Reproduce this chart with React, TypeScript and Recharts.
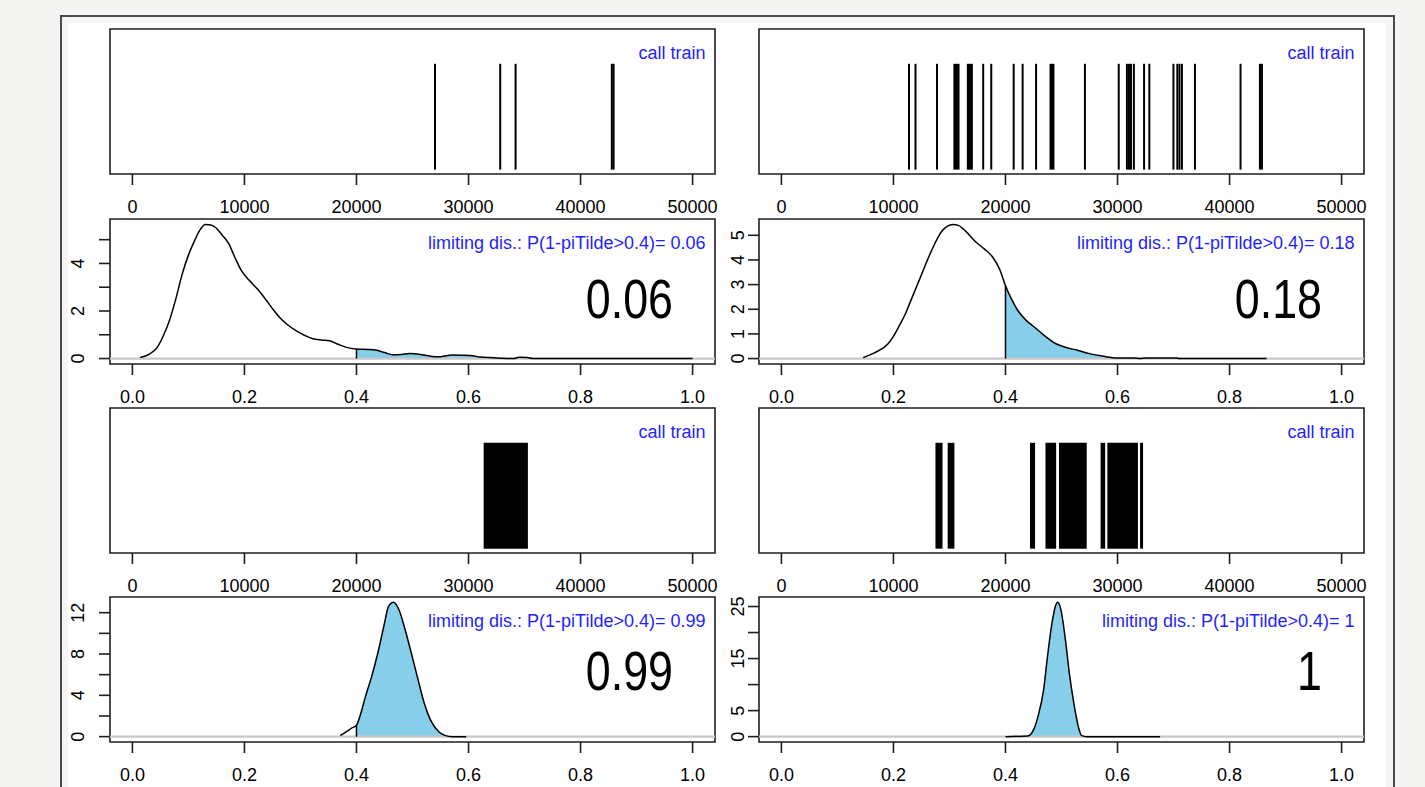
import {
  Area,
  ComposedChart,
  Label,
  Line,
  ReferenceArea,
  ReferenceLine,
  XAxis,
  YAxis,
} from "recharts";

const FONT = "'Liberation Sans', Arial, Helvetica, sans-serif";
const INK = "#1e1e1e";
const BLUE = "#1f1fff";
const SKY = "#87CEEB";

// call train times (single spikes) and dense bursts [start, end]
const TIME_TICKS = [0, 10000, 20000, 30000, 40000, 50000];
const SPIKES_A = [27010, 32830, 34200, 42790, 42950];
const BURSTS_A: [number, number][] = [];
const SPIKES_B = [
  11390, 11970, 13890, 18010, 18730, 20730, 21530, 22730, 27090, 30110, 30840,
  31020, 31200, 31460, 32370, 32840, 34990, 35340, 35530, 35750, 36910, 40980,
];
const BURSTS_B: [number, number][] = [
  [15350, 15900],
  [16550, 17090],
  [23930, 24370],
  [42620, 42980],
];
const SPIKES_C: number[] = [];
const BURSTS_C: [number, number][] = [[31350, 35300]];
const SPIKES_D: number[] = [];
const BURSTS_D: [number, number][] = [
  [13750, 14380],
  [14840, 15440],
  [22190, 22640],
  [23570, 24520],
  [24780, 27250],
  [28490, 28900],
  [29090, 31820],
  [32010, 32280],
];

// limiting distribution densities of 1 - piTilde
const PROP_TICKS = [0, 0.2, 0.4, 0.6, 0.8, 1.0];
const THRESHOLD = 0.4;

const DENSITY_A = [
  { x: 0.014, y: 0.04 }, { x: 0.03, y: 0.18 }, { x: 0.044, y: 0.46 }, { x: 0.055, y: 0.95 },
  { x: 0.066, y: 1.59 }, { x: 0.078, y: 2.55 }, { x: 0.089, y: 3.56 }, { x: 0.1, y: 4.35 },
  { x: 0.111, y: 4.96 }, { x: 0.121, y: 5.42 }, { x: 0.13, y: 5.64 }, { x: 0.14, y: 5.62 },
  { x: 0.149, y: 5.5 }, { x: 0.16, y: 5.2 }, { x: 0.172, y: 4.83 }, { x: 0.183, y: 4.25 },
  { x: 0.194, y: 3.72 }, { x: 0.209, y: 3.28 }, { x: 0.224, y: 2.9 }, { x: 0.239, y: 2.45 },
  { x: 0.25, y: 2.1 }, { x: 0.262, y: 1.75 }, { x: 0.277, y: 1.42 }, { x: 0.292, y: 1.17 },
  { x: 0.307, y: 0.98 }, { x: 0.322, y: 0.83 }, { x: 0.337, y: 0.78 }, { x: 0.352, y: 0.75 },
  { x: 0.367, y: 0.6 }, { x: 0.382, y: 0.47 }, { x: 0.4, y: 0.4 }, { x: 0.42, y: 0.38 },
  { x: 0.434, y: 0.36 }, { x: 0.45, y: 0.25 }, { x: 0.465, y: 0.16 }, { x: 0.48, y: 0.17 },
  { x: 0.495, y: 0.21 }, { x: 0.517, y: 0.16 }, { x: 0.535, y: 0.09 }, { x: 0.547, y: 0.07 },
  { x: 0.56, y: 0.12 }, { x: 0.57, y: 0.15 }, { x: 0.59, y: 0.14 }, { x: 0.607, y: 0.12 },
  { x: 0.62, y: 0.06 }, { x: 0.645, y: 0.03 }, { x: 0.66, y: 0.01 }, { x: 0.68, y: 0 },
  { x: 0.69, y: 0.05 }, { x: 0.705, y: 0.04 }, { x: 0.715, y: 0 }, { x: 1.0, y: 0 },
];
const DENSITY_B = [
  { x: 0.146, y: 0.04 }, { x: 0.167, y: 0.24 }, { x: 0.19, y: 0.59 }, { x: 0.2, y: 0.9 },
  { x: 0.212, y: 1.4 }, { x: 0.222, y: 1.85 }, { x: 0.231, y: 2.35 }, { x: 0.25, y: 3.4 },
  { x: 0.268, y: 4.38 }, { x: 0.287, y: 5.18 }, { x: 0.306, y: 5.44 }, { x: 0.316, y: 5.4 },
  { x: 0.325, y: 5.25 }, { x: 0.347, y: 4.73 }, { x: 0.362, y: 4.45 }, { x: 0.377, y: 4.12 },
  { x: 0.39, y: 3.6 }, { x: 0.4, y: 2.95 }, { x: 0.411, y: 2.4 }, { x: 0.422, y: 1.95 },
  { x: 0.437, y: 1.55 }, { x: 0.452, y: 1.27 }, { x: 0.47, y: 0.92 }, { x: 0.49, y: 0.6 },
  { x: 0.508, y: 0.45 }, { x: 0.528, y: 0.34 }, { x: 0.55, y: 0.2 }, { x: 0.573, y: 0.1 },
  { x: 0.6, y: 0.02 }, { x: 0.63, y: 0.02 }, { x: 0.64, y: 0 }, { x: 0.65, y: 0.02 },
  { x: 0.705, y: 0.02 }, { x: 0.71, y: 0 }, { x: 0.866, y: 0 },
];
const DENSITY_C = [
  { x: 0.371, y: 0.1 }, { x: 0.382, y: 0.48 }, { x: 0.392, y: 0.85 }, { x: 0.4, y: 1.1 },
  { x: 0.406, y: 1.94 }, { x: 0.416, y: 3.87 }, { x: 0.427, y: 5.81 }, { x: 0.438, y: 8.07 },
  { x: 0.45, y: 10.98 }, { x: 0.457, y: 12.58 }, { x: 0.466, y: 13.0 }, { x: 0.476, y: 12.26 },
  { x: 0.487, y: 10.33 }, { x: 0.498, y: 8.07 }, { x: 0.51, y: 5.49 }, { x: 0.521, y: 3.23 },
  { x: 0.532, y: 1.62 }, { x: 0.547, y: 0.48 }, { x: 0.559, y: 0.1 }, { x: 0.57, y: 0 },
  { x: 0.596, y: 0 },
];
const DENSITY_D = [
  { x: 0.4, y: 0 }, { x: 0.44, y: 0.13 }, { x: 0.45, y: 1.3 }, { x: 0.458, y: 3.85 },
  { x: 0.468, y: 8.98 }, { x: 0.475, y: 15.4 }, { x: 0.483, y: 21.8 }, { x: 0.489, y: 25.0 },
  { x: 0.493, y: 25.8 }, { x: 0.499, y: 24.37 }, { x: 0.507, y: 18.6 }, { x: 0.514, y: 12.19 },
  { x: 0.522, y: 6.42 }, { x: 0.53, y: 1.92 }, { x: 0.536, y: 0.19 }, { x: 0.545, y: 0 },
  { x: 0.676, y: 0 },
];

const PROB_LABELS = ["0.06", "0.18", "0.99", "1"];
const YTICKS_A = [0, 1, 2, 3, 4, 5];
const YLABELS_A = [0, 2, 4];
const YTICKS_B = [0, 1, 2, 3, 4, 5];
const YLABELS_B = [0, 1, 2, 3, 4, 5];
const YTICKS_C = [0, 2, 4, 6, 8, 10, 12];
const YLABELS_C = [0, 4, 8, 12];
const YTICKS_D = [0, 5, 10, 15, 20, 25];
const YLABELS_D = [0, 5, 15, 25];

// layout
const BOX_W = 605;
const BOX_H = 145;
const COL_LEFT = [110, 759];
const ROW_TOP = [29, 219, 408, 597];
const PAD_L = 60;
const PAD_R = 22;
const PAD_T = 6;
const PAD_B = 46;
const TIME_DOMAIN = [-2000, 52000];
const PROP_DOMAIN = [-0.04, 1.04];
const SPIKE_LO = 0.03;
const SPIKE_HI = 0.76;

function XTick(props: any) {
  const { x, y, payload, digits } = props;
  const v = Number(payload.value);
  const text = digits ? v.toFixed(digits) : String(v);
  return (
    <text x={x} y={y + 26} textAnchor="middle" fontSize={18} fontFamily={FONT} fill="#000">
      {text}
    </text>
  );
}

function YTick(props: any) {
  const { x, y, payload, labels, shift } = props;
  if (!labels.includes(payload.value)) return <g />;
  const cx = x - shift;
  return (
    <text
      x={cx}
      y={y}
      dy="0.36em"
      transform={`rotate(-90 ${cx} ${y})`}
      textAnchor="middle"
      fontSize={18}
      fontFamily={FONT}
      fill="#000"
    >
      {payload.value}
    </text>
  );
}

function boxText(tag: string, prob?: string, numberDrop = 95) {
  return (props: any) => {
    const vb = props?.viewBox;
    if (!vb) return null;
    const right = vb.x + vb.width;
    const nx = right - 42;
    const ny = vb.y + numberDrop;
    return (
      <g>
        <text x={right - 9.5} y={vb.y + 30} textAnchor="end" fontSize={18} fontFamily={FONT} fill={BLUE}>
          {tag}
        </text>
        {prob && (
          <text
            transform={`translate(${nx} ${ny}) scale(0.8 1)`}
            x={0}
            y={0}
            textAnchor="end"
            fontSize={56}
            fontFamily={FONT}
            fill="#000"
          >
            {prob}
          </text>
        )}
      </g>
    );
  };
}

function SpikePanel({ col, row, spikes, bursts }: { col: number; row: number; spikes: number[]; bursts: [number, number][] }) {
  return (
    <div style={{ position: "absolute", left: COL_LEFT[col] - PAD_L, top: ROW_TOP[row] - PAD_T }}>
      <ComposedChart
        width={PAD_L + BOX_W + PAD_R}
        height={PAD_T + BOX_H + PAD_B}
        data={spikes.map((t) => ({ x: t }))}
        margin={{ top: PAD_T, right: PAD_R, bottom: 0, left: 0 }}
        style={{ overflow: "visible" }}
      >
        <XAxis
          dataKey="x"
          type="number"
          domain={TIME_DOMAIN}
          allowDataOverflow
          ticks={TIME_TICKS}
          interval={0}
          height={PAD_B}
          tickSize={11}
          axisLine={false}
          tickLine={{ stroke: INK, strokeWidth: 1.6 }}
          tick={<XTick digits={0} />}
        />
        <YAxis type="number" domain={[0, 1]} allowDataOverflow width={PAD_L} tick={false} tickLine={false} axisLine={false} />
        {bursts.map(([a, b]) => (
          <ReferenceArea key={`b${a}`} x1={a} x2={b} y1={SPIKE_LO} y2={SPIKE_HI} fill="#000" fillOpacity={1} stroke="none" ifOverflow="visible" />
        ))}
        {spikes.map((t) => (
          <ReferenceLine
            key={`s${t}`}
            segment={[{ x: t, y: SPIKE_LO }, { x: t, y: SPIKE_HI }]}
            stroke="#000"
            strokeWidth={2}
            ifOverflow="visible"
          />
        ))}
        <ReferenceArea
          x1={TIME_DOMAIN[0]}
          x2={TIME_DOMAIN[1]}
          y1={0}
          y2={1}
          fill="none"
          stroke={INK}
          strokeWidth={1.6}
          ifOverflow="visible"
          label={<Label content={boxText("call train")} />}
        />
      </ComposedChart>
    </div>
  );
}

function DensityPanel({
  col,
  row,
  density,
  yDomain,
  yTicks,
  yLabels,
  prob,
  numberDrop,
}: {
  col: number;
  row: number;
  density: { x: number; y: number }[];
  yDomain: [number, number];
  yTicks: number[];
  yLabels: number[];
  prob: string;
  numberDrop: number;
}) {
  const tail = density.filter((p) => p.x >= THRESHOLD);
  const edge = tail.length ? tail[0] : null;
  return (
    <div style={{ position: "absolute", left: COL_LEFT[col] - PAD_L, top: ROW_TOP[row] - PAD_T }}>
      <ComposedChart
        width={PAD_L + BOX_W + PAD_R}
        height={PAD_T + BOX_H + PAD_B}
        margin={{ top: PAD_T, right: PAD_R, bottom: 0, left: 0 }}
        style={{ overflow: "visible" }}
      >
        <XAxis
          dataKey="x"
          type="number"
          domain={PROP_DOMAIN}
          allowDataOverflow
          ticks={PROP_TICKS}
          interval={0}
          height={PAD_B}
          tickSize={11}
          axisLine={false}
          tickLine={{ stroke: INK, strokeWidth: 1.6 }}
          tick={<XTick digits={1} />}
        />
        <YAxis
          type="number"
          domain={yDomain}
          allowDataOverflow
          ticks={yTicks}
          interval={0}
          width={PAD_L}
          tickSize={11}
          axisLine={false}
          tickLine={{ stroke: INK, strokeWidth: 1.6 }}
          tick={<YTick labels={yLabels} shift={col === 0 ? 19 : 8} />}
        />
        <ReferenceLine y={0} stroke="#c8c8c8" strokeWidth={2.2} ifOverflow="visible" />
        <Area
          data={tail}
          dataKey="y"
          type="monotone"
          baseValue={0}
          fill={SKY}
          fillOpacity={1}
          stroke="none"
          isAnimationActive={false}
          dot={false}
          activeDot={false}
        />
        <Line
          data={density}
          dataKey="y"
          type="monotone"
          stroke="#000"
          strokeWidth={1.5}
          dot={false}
          activeDot={false}
          isAnimationActive={false}
        />
        {edge && edge.y > 0 && (
          <ReferenceLine
            segment={[{ x: edge.x, y: 0 }, { x: edge.x, y: edge.y }]}
            stroke="#000"
            strokeWidth={1.5}
            ifOverflow="visible"
          />
        )}
        <ReferenceArea
          x1={PROP_DOMAIN[0]}
          x2={PROP_DOMAIN[1]}
          y1={yDomain[0]}
          y2={yDomain[1]}
          fill="none"
          stroke={INK}
          strokeWidth={1.6}
          ifOverflow="visible"
          label={<Label content={boxText(`limiting dis.: P(1-piTilde>${THRESHOLD})= ${prob}`, prob, numberDrop)} />}
        />
      </ComposedChart>
    </div>
  );
}

export default function App() {
  return (
    <div
      style={{
        position: "fixed",
        left: 0,
        top: 0,
        width: 1425,
        height: 787,
        background: "#f4f4f3",
        overflow: "hidden",
        fontFamily: FONT,
      }}
    >
      <div
        style={{
          position: "absolute",
          left: 60,
          top: 15,
          width: 1331,
          height: 800,
          borderLeft: "2px solid #4a4a4a",
          borderTop: "2px solid #4a4a4a",
          borderRight: "2px solid #4a4a4a",
          background: "#f5f5f5",
        }}
      />
      <div style={{ position: "absolute", left: 68, top: 23, width: 1318, height: 770, background: "#fff" }} />

      <SpikePanel col={0} row={0} spikes={SPIKES_A} bursts={BURSTS_A} />
      <SpikePanel col={1} row={0} spikes={SPIKES_B} bursts={BURSTS_B} />
      <DensityPanel col={0} row={1} density={DENSITY_A} yDomain={[-0.23, 5.87]} yTicks={YTICKS_A} yLabels={YLABELS_A} prob={PROB_LABELS[0]} numberDrop={98.5} />
      <DensityPanel col={1} row={1} density={DENSITY_B} yDomain={[-0.22, 5.66]} yTicks={YTICKS_B} yLabels={YLABELS_B} prob={PROB_LABELS[1]} numberDrop={98.5} />
      <SpikePanel col={0} row={2} spikes={SPIKES_C} bursts={BURSTS_C} />
      <SpikePanel col={1} row={2} spikes={SPIKES_D} bursts={BURSTS_D} />
      <DensityPanel col={0} row={3} density={DENSITY_C} yDomain={[-0.52, 13.52]} yTicks={YTICKS_C} yLabels={YLABELS_C} prob={PROB_LABELS[2]} numberDrop={92.5} />
      <DensityPanel col={1} row={3} density={DENSITY_D} yDomain={[-1.03, 26.83]} yTicks={YTICKS_D} yLabels={YLABELS_D} prob={PROB_LABELS[3]} numberDrop={92.5} />
    </div>
  );
}
